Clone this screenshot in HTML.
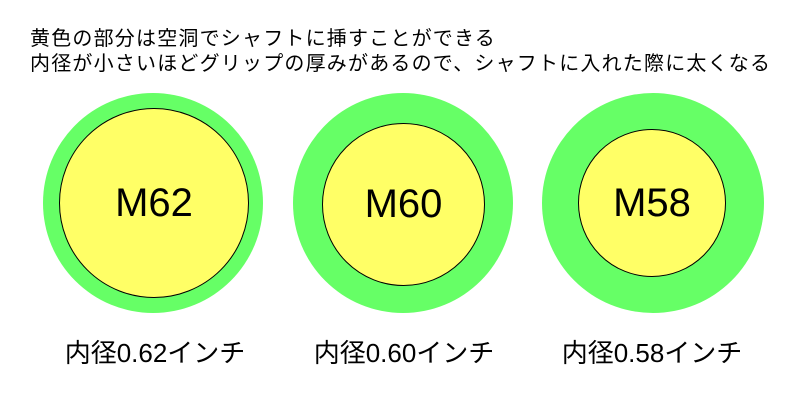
<!DOCTYPE html>
<html><head><meta charset="utf-8"><style>
body{margin:0;width:800px;height:400px;background:#fff;overflow:hidden;position:relative;font-family:"Liberation Sans","Noto Sans CJK JP",sans-serif;}
.t{position:absolute;left:30px;font-size:20px;line-height:20px;letter-spacing:1.2px;color:#000;white-space:nowrap;}
.c{position:absolute;border-radius:50%;}
.o{background:#66ff66;}
.i{background:#ffff66;border:1px solid #000;box-sizing:border-box;display:flex;align-items:center;justify-content:center;font-size:40px;}
.l{position:absolute;top:338px;font-size:26px;line-height:30px;white-space:nowrap;transform:translateX(-50%);}
</style></head><body>
<div class="t" style="top:29px">黄色の部分は空洞でシャフトに挿すことができる</div>
<div class="t" style="top:54px">内径が小さいほどグリップの厚みがあるので、シャフトに入れた際に太くなる</div>
<div class="c o" style="left:43px;top:93px;width:220px;height:220px"></div>
<div class="c i" style="left:59px;top:108px;width:190px;height:190px">M62</div>
<div class="c o" style="left:293px;top:93px;width:220px;height:220px"></div>
<div class="c i" style="left:322px;top:123px;width:163px;height:163px">M60</div>
<div class="c o" style="left:542px;top:93px;width:222px;height:220px"></div>
<div class="c i" style="left:578px;top:129px;width:148px;height:148px">M58</div>
<div class="l" style="left:155px">内径0.62インチ</div>
<div class="l" style="left:404px">内径0.60インチ</div>
<div class="l" style="left:652px">内径0.58インチ</div>
</body></html>
